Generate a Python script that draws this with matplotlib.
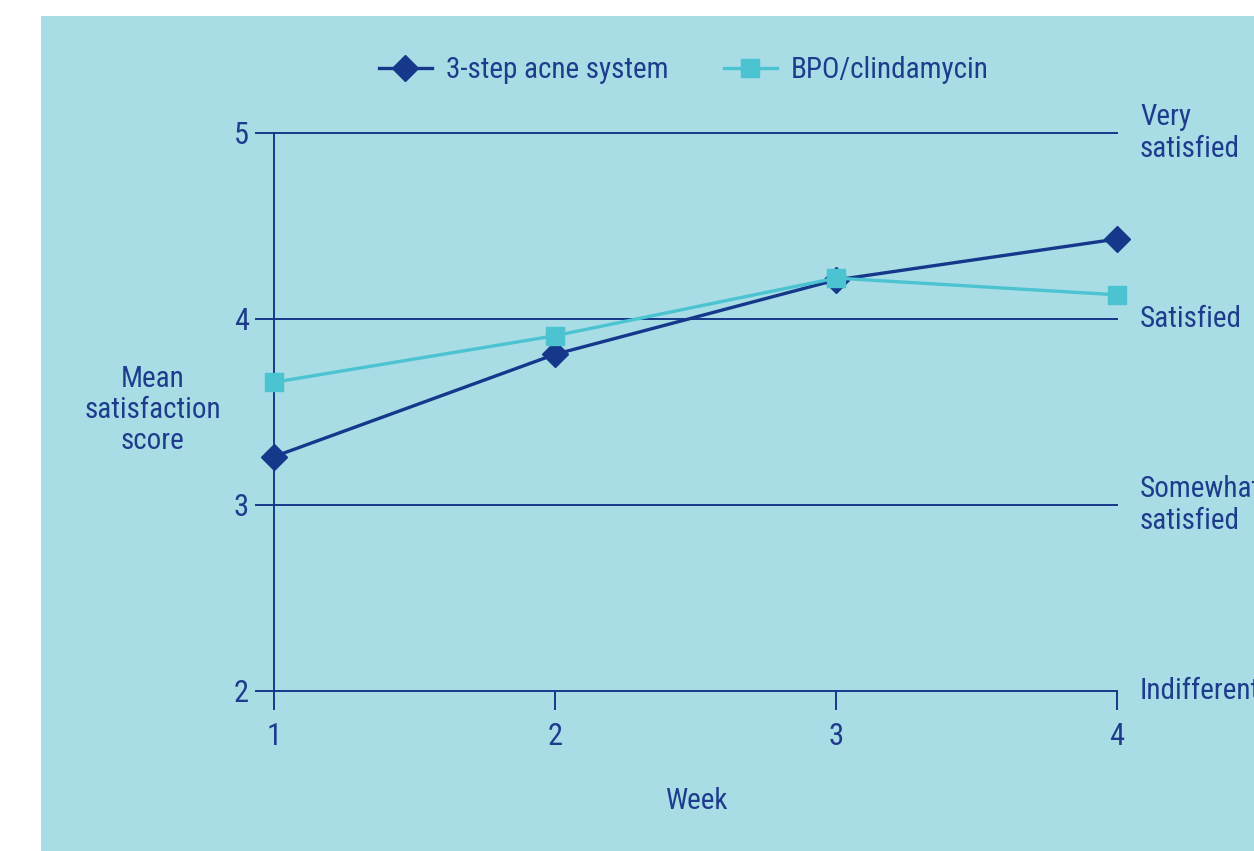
import matplotlib
matplotlib.use("Agg")
import matplotlib.pyplot as plt
import matplotlib.font_manager as fm
import matplotlib.transforms as mtrans
from matplotlib.patches import Rectangle

# pick a condensed sans face if one is installed
def find_condensed():
    prefs = ["liberationsansnarrow-regular", "robotocondensed-regular", "dejavusanscondensed.",
             "opensans_condensed-regular", "notosans-condensed", "lato"]
    files = fm.findSystemFonts() + [f.fname for f in fm.fontManager.ttflist]
    low = {f.lower().split("/")[-1]: f for f in files}
    for p in prefs:
        for name, path in low.items():
            if name.startswith(p) and "italic" not in name and "bold" not in name:
                return path
    for name, path in low.items():
        if ("narrow" in name or "condensed" in name) and "italic" not in name \
                and "bold" not in name and "semi" not in name:
            return path
    return None

path = find_condensed()
if path:
    fm.fontManager.addfont(path)
    fam = fm.FontProperties(fname=path).get_name()
    plt.rcParams['font.family'] = [fam, 'DejaVu Sans']
else:
    plt.rcParams['font.family'] = ['DejaVu Sans']

weeks = [1, 2, 3, 4]
three_step = [3.26, 3.81, 4.21, 4.43]
bpo_clinda = [3.66, 3.91, 4.22, 4.13]
y_ticks = [2, 3, 4, 5]
scale_labels = {5: "Very\nsatisfied", 4: "Satisfied", 3: "Somewhat\nsatisfied", 2: "Indifferent"}
series_names = ["3-step acne system", "BPO/clindamycin"]

navy = "#15388A"
cyan = "#4BC3D1"
panel = "#A8DDE6"
text_c = "#1F3C8C"
fs = 21

W, H = 1254, 851
fig = plt.figure(figsize=(W / 100, H / 100), dpi=100)
fig.patch.set_facecolor("white")
fig.add_artist(Rectangle((41 / W, 0), 1 - 41 / W, 1 - 16 / H,
                         transform=fig.transFigure, facecolor=panel,
                         edgecolor="none", zorder=0))

left, right, top, bottom = 274, 1117, 133, 691
ax = fig.add_axes([left / W, 1 - bottom / H, (right - left) / W, (bottom - top) / H])
ax.set_facecolor("none")
ax.set_xlim(1, 4)
ax.set_ylim(2, 5)
for s in ["top", "right", "bottom"]:
    ax.spines[s].set_visible(False)
ax.spines["left"].set_color(navy)
ax.spines["left"].set_linewidth(1.4)

for y in y_ticks:
    ax.axhline(y, color=navy, lw=1.4, zorder=1, clip_on=False)

ax.set_yticks(y_ticks)
ax.set_xticks(weeks)
ax.tick_params(axis="both", colors=navy, labelcolor=text_c, labelsize=22,
               length=14, width=1.4, direction="out")
ax.tick_params(axis="x", pad=8)
ax.tick_params(axis="y", pad=4)

ax.plot(weeks, three_step, color=navy, lw=2.4, marker="D", ms=13,
        label=series_names[0], zorder=3, clip_on=False)
ax.plot(weeks, bpo_clinda, color=cyan, lw=2.4, marker="s", ms=13.5,
        label=series_names[1], zorder=4, clip_on=False)

side = mtrans.blended_transform_factory(fig.transFigure, ax.transData)
for y, t in scale_labels.items():
    ax.text(1140 / W, y, t, transform=side, ha="left", va="center",
            fontsize=fs, color=text_c, linespacing=1.15)

fig.text(153 / W, 1 - 410 / H, "Mean\nsatisfaction\nscore", ha="center", va="center",
         fontsize=fs, color=text_c, linespacing=1.15)
fig.text(697 / W, 1 - 801 / H, "Week", ha="center", va="center", fontsize=fs, color=text_c)

leg = fig.legend(loc="center", bbox_to_anchor=(684 / W, 1 - 70 / H), ncol=2, frameon=False,
                 fontsize=fs, handlelength=1.8, columnspacing=1.9, handletextpad=0.5)
for t in leg.get_texts():
    t.set_color(text_c)

fig.savefig("out.png", dpi=100, facecolor=fig.get_facecolor())
